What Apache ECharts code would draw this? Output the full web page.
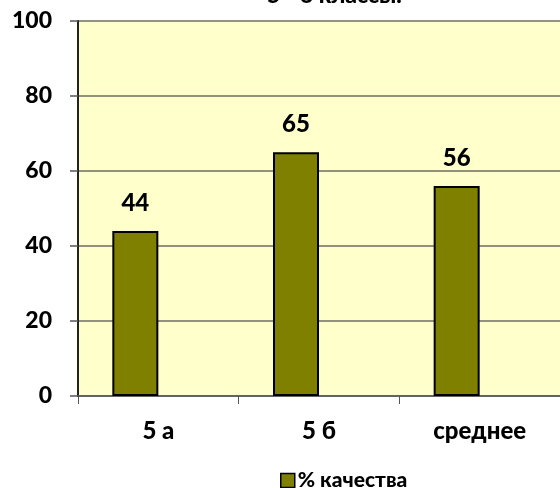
<!DOCTYPE html>
<html>
<head>
<meta charset="utf-8">
<script src="https://cdn.jsdelivr.net/npm/echarts@6/dist/echarts.min.js"></script>
<style>
html,body{margin:0;padding:0;background:#fff;}
#c{width:560px;height:488px;}
</style>
</head>
<body>
<div id="c"></div>
<script>
const categories = ['5 а', '5 б', 'среднее'];
const quality = [44, 65, 56];
const seriesName = '% качества';
const titleText = '5 - 6 классы.';
const yTicks = { min: 0, max: 100, interval: 20 };

const FONT = 'Lato';
const W = 900;
const chart = echarts.init(document.getElementById('c'), null, { renderer: 'canvas' });
chart.setOption({
  animation: false,
  backgroundColor: '#ffffff',
  title: {
    text: titleText,
    left: 262,
    top: -21,
    textStyle: { fontFamily: FONT, fontWeight: W, fontSize: 23, color: '#000' }
  },
  grid: {
    left: 78, top: 21, right: -1, bottom: 92,
    show: true, backgroundColor: '#FFFFCC', borderWidth: 0
  },
  legend: {
    data: [seriesName],
    left: 275, top: 465,
    itemWidth: 14, itemHeight: 14, itemGap: 10,
    icon: 'rect',
    itemStyle: { borderColor: '#000', borderWidth: 1.5 },
    textStyle: { fontFamily: FONT, fontWeight: W, fontSize: 21, color: '#000', padding: [0, 0, 0, -2] }
  },
  xAxis: {
    type: 'category',
    data: categories,
    axisLine: { show: true, lineStyle: { color: '#555', width: 1.5 } },
    axisTick: { show: true, length: 8, lineStyle: { color: '#555', width: 1 } },
    axisLabel: { margin: 23, fontFamily: FONT, fontWeight: W, fontSize: 24, color: '#000' }
  },
  yAxis: {
    type: 'value',
    min: yTicks.min, max: yTicks.max, interval: yTicks.interval,
    axisLine: { show: true, lineStyle: { color: '#222', width: 2 } },
    axisTick: { show: true, length: 8, lineStyle: { color: '#555', width: 1.5 } },
    splitLine: { show: true, lineStyle: { color: '#6e6e62', width: 1.5 } },
    axisLabel: { margin: 26, fontFamily: FONT, fontWeight: W, fontSize: 23, color: '#000' }
  },
  series: [
    {
      name: seriesName,
      type: 'bar',
      data: quality,
      barWidth: 46,
      barGap: '0%',
      itemStyle: { color: '#808000', borderColor: '#000', borderWidth: 2 },
      label: {
        show: true, position: 'top', distance: 16,
        fontFamily: FONT, fontWeight: W, fontSize: 24, color: '#000'
      }
    },
    {
      name: 'hidden',
      type: 'bar',
      data: quality.map(() => null),
      barWidth: 46,
      barGap: '0%'
    }
  ]
});
</script>
</body>
</html>
